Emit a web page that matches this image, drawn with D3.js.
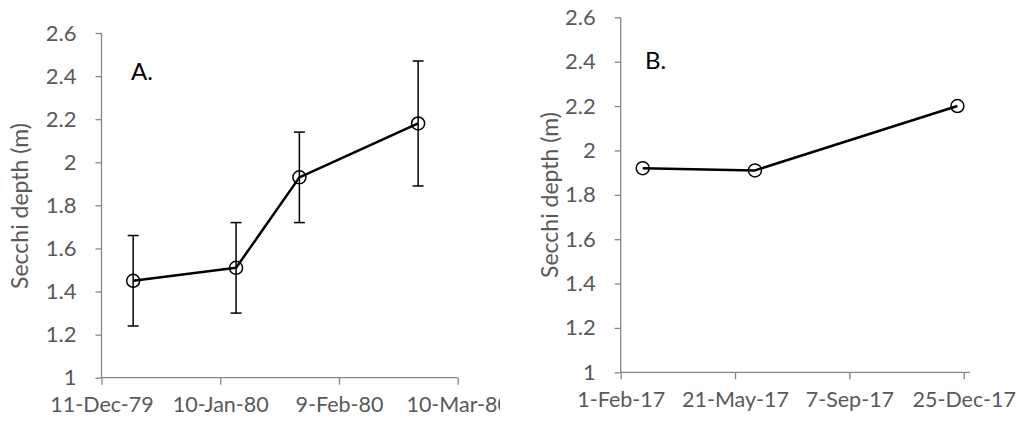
<!DOCTYPE html>
<html>
<head>
<meta charset="utf-8">
<script src="https://cdn.jsdelivr.net/npm/d3@7"></script>
<style>
  html, body { margin: 0; padding: 0; background: #fff; }
  svg { display: block; }
  .tick text { font-family: Lato, "Open Sans", sans-serif; fill: #595959; }
</style>
</head>
<body>
<svg id="chart" width="1019" height="423"></svg>
<script>
// Panel A data (1979-80), mean +/- error
const datesA = ["1979-12-19", "1980-01-14", "1980-01-30", "1980-02-29"];
const depthA = [1.45, 1.51, 1.93, 2.18];
const errA = [0.21, 0.21, 0.21, 0.29];
const ticksA = ["1979-12-11", "1980-01-10", "1980-02-09", "1980-03-10"];

// Panel B data (2017)
const datesB = ["2017-02-22", "2017-06-09", "2017-12-19"];
const depthB = [1.92, 1.91, 2.20];
const ticksB = ["2017-02-01", "2017-05-21", "2017-09-07", "2017-12-25"];
const domainB = ["2017-02-01", "2017-12-31"];

const yTicks = [1, 1.2, 1.4, 1.6, 1.8, 2, 2.2, 2.4, 2.6];

const parse = d3.utcParse("%Y-%m-%d");
const fmt = d3.utcFormat("%-d-%b-%y");
const axisColor = "#868686";
const textColor = "#595959";
const font = 'Lato, "Open Sans", sans-serif';

const svg = d3.select("#chart");

svg.append("defs").append("clipPath").attr("id", "clipA")
  .append("rect").attr("x", 0).attr("y", 0).attr("width", 500).attr("height", 423);

function drawPanel(g, opt) {
  const x = d3.scaleUtc().domain(opt.xDomain.map(parse)).range(opt.xRange);
  const y = d3.scaleLinear().domain([1, 2.6]).range(opt.yRange);

  // y axis
  const ya = g.append("g")
    .attr("transform", `translate(${opt.xRange[0]},0)`)
    .call(d3.axisLeft(y).tickValues(yTicks).tickSize(6).tickPadding(19)
      .tickFormat(d3.format("")));
  ya.selectAll("text").style("font-size", "22px");
  ya.selectAll("line, path").attr("stroke", axisColor).attr("stroke-width", 1.3);
  ya.select(".domain").attr("d", `M0,${opt.yRange[0]}V${opt.yRange[1]}`);

  // x axis
  const xa = g.append("g")
    .attr("transform", `translate(0,${opt.yRange[0]})`)
    .call(d3.axisBottom(x).tickValues(opt.xTicks.map(parse)).tickSize(7)
      .tickPadding(12).tickFormat(fmt));
  xa.selectAll("text").style("font-size", "21.5px");
  xa.selectAll("line, path").attr("stroke", axisColor).attr("stroke-width", 1.3);
  xa.select(".domain").attr("d", `M${opt.xRange[0]},0H${opt.xRange[1]}`);

  // y label
  g.append("text")
    .attr("transform", `translate(${opt.labelX},${opt.labelY}) rotate(-90)`)
    .attr("text-anchor", "middle")
    .style("font-family", font).style("font-size", "23px").attr("fill", textColor)
    .text("Secchi depth (m)");

  // panel letter
  g.append("text")
    .attr("x", opt.letterX).attr("y", opt.letterY)
    .style("font-family", font).style("font-size", "24px").attr("fill", "#000")
    .text(opt.letter);

  const pts = opt.dates.map((d, i) => ({ x: x(parse(d)), v: opt.values[i], e: opt.errors ? opt.errors[i] : null }));

  // error bars
  pts.filter(p => p.e != null).forEach(p => {
    const eb = g.append("g").attr("stroke", "#000").attr("stroke-width", 1.5);
    eb.append("line").attr("x1", p.x).attr("x2", p.x).attr("y1", y(p.v - p.e)).attr("y2", y(p.v + p.e));
    eb.append("line").attr("x1", p.x - 5.5).attr("x2", p.x + 5.5).attr("y1", y(p.v - p.e)).attr("y2", y(p.v - p.e));
    eb.append("line").attr("x1", p.x - 5.5).attr("x2", p.x + 5.5).attr("y1", y(p.v + p.e)).attr("y2", y(p.v + p.e));
  });

  // line
  g.append("path")
    .datum(pts)
    .attr("fill", "none").attr("stroke", "#000").attr("stroke-width", 2.5)
    .attr("stroke-linejoin", "round")
    .attr("d", d3.line().x(p => p.x).y(p => y(p.v)));

  // open circle markers
  g.selectAll("circle.m")
    .data(pts).enter().append("circle")
    .attr("class", "m")
    .attr("cx", p => p.x).attr("cy", p => y(p.v)).attr("r", 6.5)
    .attr("fill", "none").attr("stroke", "#000").attr("stroke-width", 1.5);
}

drawPanel(svg.append("g").attr("clip-path", "url(#clipA)"), {
  xDomain: [ticksA[0], ticksA[3]], xRange: [101.5, 457.7], yRange: [377.7, 33],
  xTicks: ticksA, dates: datesA, values: depthA, errors: errA,
  labelX: 28, labelY: 206, letter: "A.", letterX: 131, letterY: 80
});

drawPanel(svg.append("g"), {
  xDomain: domainB, xRange: [620.7, 970], yRange: [372.3, 17.3],
  xTicks: ticksB, dates: datesB, values: depthB, errors: null,
  labelX: 558, labelY: 195, letter: "B.", letterX: 645, letterY: 69
});
</script>
</body>
</html>
